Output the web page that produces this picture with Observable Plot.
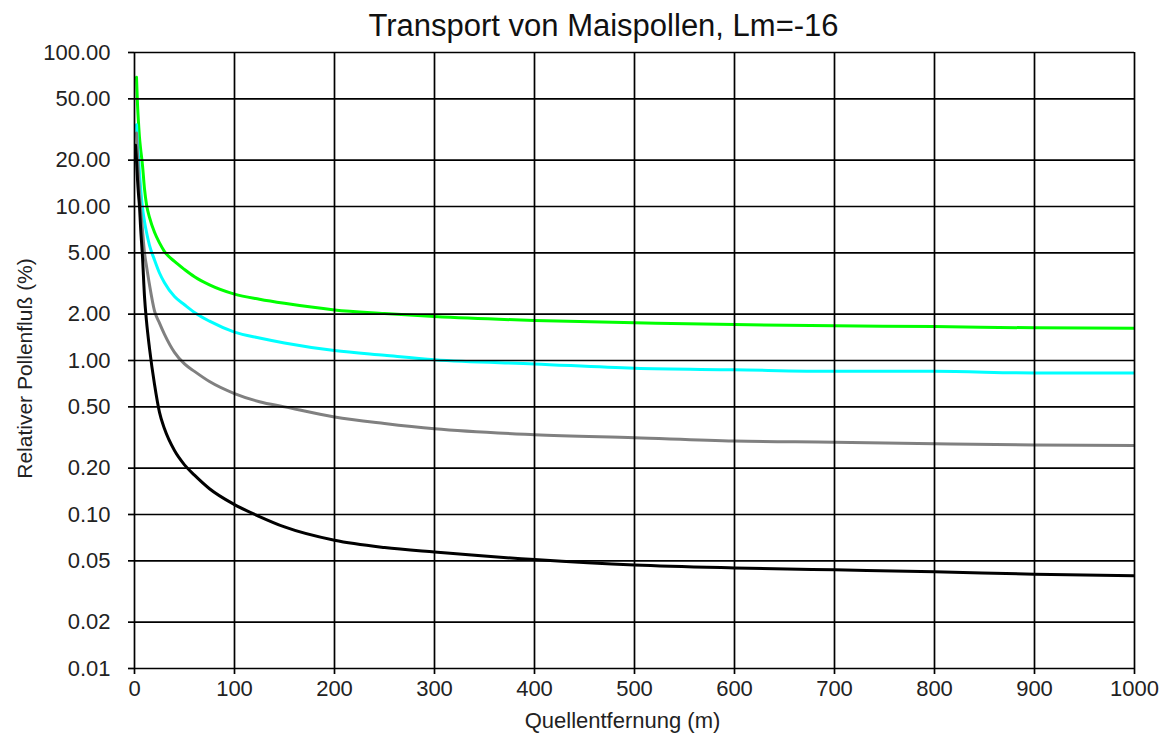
<!DOCTYPE html>
<html>
<head>
<meta charset="utf-8">
<script src="https://cdn.jsdelivr.net/npm/d3@7"></script>
<script src="https://cdn.jsdelivr.net/npm/@observablehq/plot@0.6"></script>
<style>
  html, body { margin: 0; padding: 0; background: #fff; }
  #chart { width: 1164px; height: 736px; }
</style>
</head>
<body>
<div id="chart"></div>
<script>
const title = "Transport von Maispollen, Lm=-16";
const xLabel = "Quellentfernung (m)";
const yLabel = "Relativer Pollenfluß (%)";

const xTicks = [0, 100, 200, 300, 400, 500, 600, 700, 800, 900, 1000];
const yTicks = [0.01, 0.02, 0.05, 0.1, 0.2, 0.5, 1, 2, 5, 10, 20, 50, 100];
const yTickLabels = ["0.01", "0.02", "0.05", "0.10", "0.20", "0.50", "1.00", "2.00", "5.00", "10.00", "20.00", "50.00", "100.00"];

const distances = [1, 2, 3, 4, 5, 6, 8, 10, 12, 15, 20, 25, 30, 40, 50, 60, 75, 100, 125, 150, 200, 250, 300, 400, 500, 600, 700, 800, 900, 1000];

const series1 = [null, 69, 46, 35, 28, 24, 18.5, 13, 10.3, 8.5, 6.8, 5.8, 5.1, 4.4, 3.9, 3.5, 3.1, 2.7, 2.5, 2.35, 2.13, 2.02, 1.93, 1.82, 1.76, 1.71, 1.68, 1.66, 1.63, 1.62];
const series2 = [null, 34, 26, 21, 16.5, 13.5, 9.8, 8, 6.8, 5.6, 4.5, 3.7, 3.2, 2.6, 2.3, 2.05, 1.8, 1.53, 1.4, 1.3, 1.16, 1.08, 1.01, 0.95, 0.89, 0.87, 0.85, 0.85, 0.83, 0.83];
const series3 = [null, 30, 22, 16, 12.5, 10, 7, 5, 4.1, 3.1, 2.1, 1.75, 1.48, 1.13, 0.95, 0.85, 0.73, 0.61, 0.54, 0.5, 0.43, 0.39, 0.36, 0.33, 0.315, 0.30, 0.295, 0.288, 0.283, 0.281];
const series4 = [25, 20, 15, 12, 10, 7.5, 4.7, 2.6, 1.8, 1.2, 0.7, 0.46, 0.36, 0.26, 0.21, 0.18, 0.147, 0.116, 0.097, 0.083, 0.068, 0.061, 0.057, 0.051, 0.047, 0.045, 0.0437, 0.0425, 0.041, 0.040];

const seriesNames = ["S1", "S2", "S3", "S4"];
const seriesColors = ["#00ff00", "#00ffff", "#808080", "#000000"];
const seriesValues = [series1, series2, series3, series4];

const rows = [];
seriesNames.forEach((name, i) => {
  distances.forEach((d, j) => {
    const v = seriesValues[i][j];
    if (v != null) rows.push({x: d, y: v, series: name});
  });
});

const yLabelRows = yTicks.map((v, i) => ({v, label: yTickLabels[i]}));

const font = "'Liberation Sans', Arial, Helvetica, sans-serif";

const chart = Plot.plot({
  width: 1164,
  height: 736,
  marginLeft: 134,
  marginRight: 30,
  marginTop: 52,
  marginBottom: 68,
  style: {fontFamily: font, color: "#222", background: "#fff"},
  x: {domain: [0, 1000]},
  y: {type: "log", domain: [0.01, 100]},
  color: {domain: seriesNames, range: seriesColors},
  marks: [
    Plot.line(rows, {x: "x", y: "y", z: "series", stroke: "series", strokeWidth: 3, curve: "monotone-x", clip: true}),
    Plot.ruleY(yTicks, {stroke: "#000", strokeWidth: 1.7}),
    Plot.ruleX(xTicks, {stroke: "#000", strokeWidth: 1.7}),
    Plot.axisY({ticks: yTicks, tickFormat: () => "", tickSize: 6, label: null, stroke: "#000", strokeWidth: 1.7}),
    Plot.text(yLabelRows, {y: "v", text: "label", frameAnchor: "left", textAnchor: "end", dx: -24, fontSize: 22, fill: "#222"}),
    Plot.axisX({ticks: xTicks, tickFormat: d => String(d), tickSize: 6, tickPadding: 6, fontSize: 22, label: null, stroke: "#000", strokeWidth: 1.7}),
    Plot.text([title], {frameAnchor: "top", dy: -17, dx: -31, lineAnchor: "bottom", textAnchor: "middle", fontSize: 31, fill: "#111"}),
    Plot.text([xLabel], {frameAnchor: "bottom", dy: 59, dx: -12, lineAnchor: "bottom", textAnchor: "middle", fontSize: 22, fill: "#222"}),
    Plot.text([yLabel], {frameAnchor: "left", dx: -109, dy: 8, rotate: -90, textAnchor: "middle", lineAnchor: "middle", fontSize: 21, fill: "#222"})
  ]
});

document.getElementById("chart").appendChild(chart);
</script>
</body>
</html>
